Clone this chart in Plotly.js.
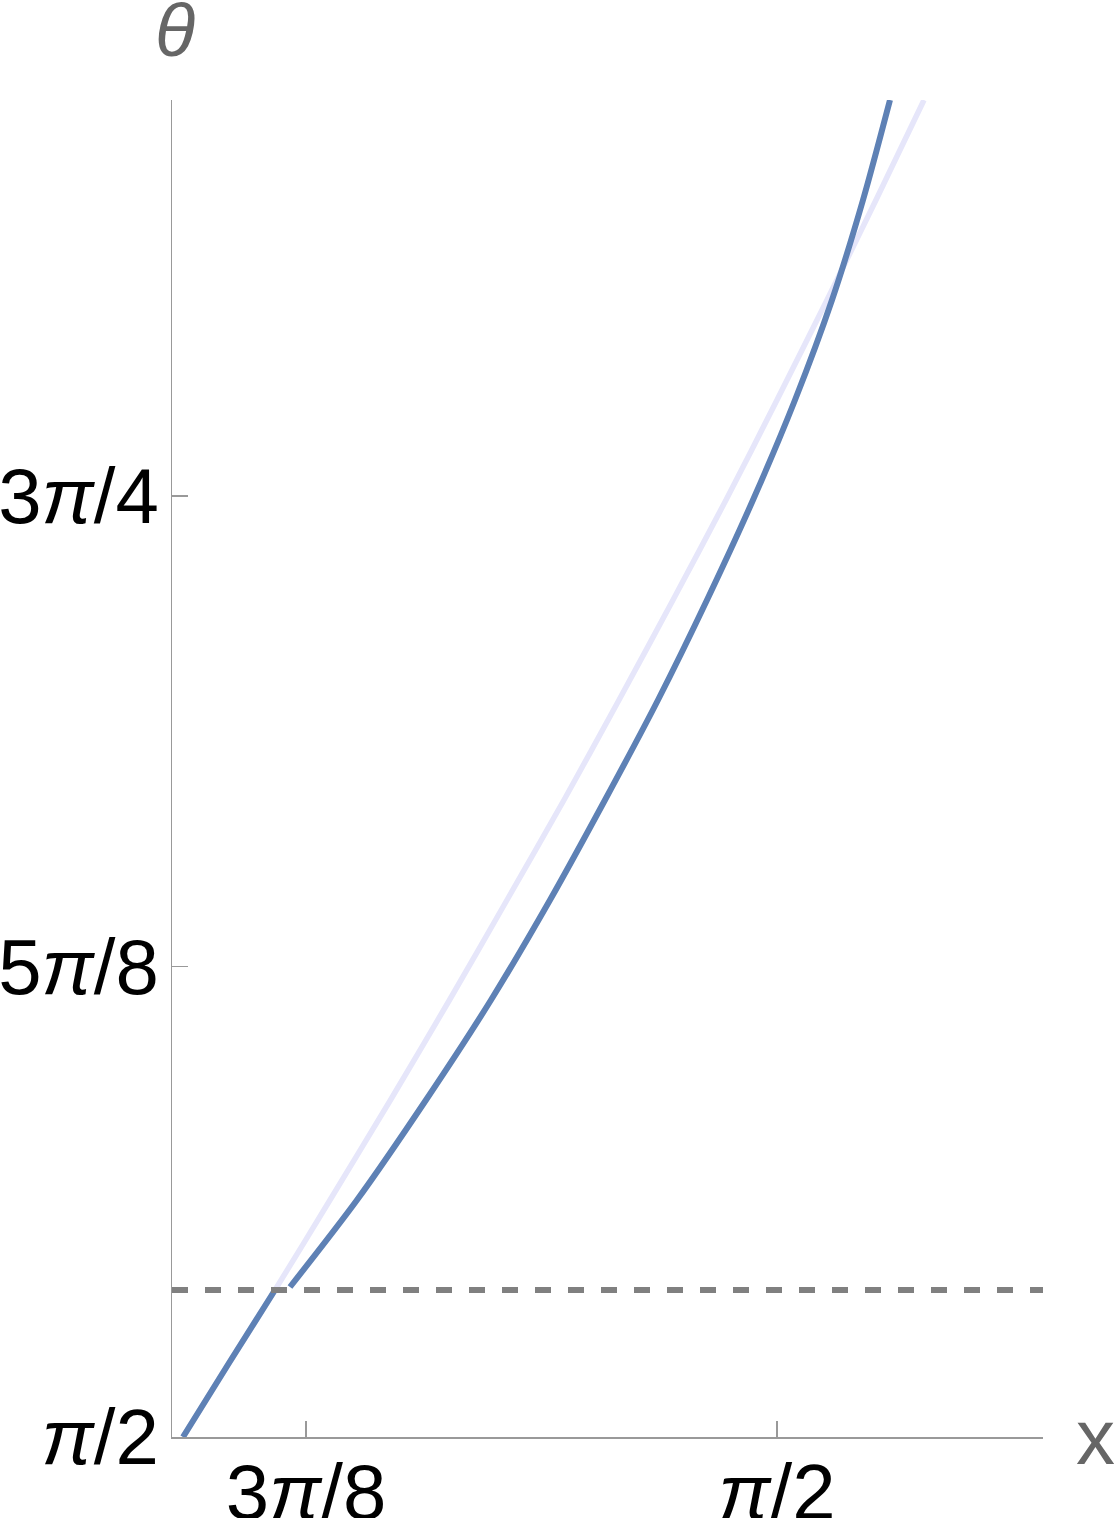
<!DOCTYPE html>
<html>
<head>
<meta charset="utf-8">
<script src="https://cdn.plot.ly/plotly-3.0.1.min.js"></script>
<style>html,body{margin:0;padding:0;background:#fff;}#chart{width:1114px;height:1518px;}</style>
</head>
<body>
<div id="chart"></div>
<script>
// Light reference curve (lavender)
const refX = [1.07554, 1.11390, 1.15225, 1.19811, 1.24855, 1.29774, 1.34568, 1.39320, 1.43906, 1.48408, 1.52827, 1.57079, 1.61248, 1.65333, 1.69335];
const refY = [1.57080, 1.63256, 1.69349, 1.76861, 1.85208, 1.93554, 2.01901, 2.10247, 2.18594, 2.26941, 2.35287, 2.43633, 2.51980, 2.60327, 2.68673];

// Main curve (blue): lower branch, gap, upper branch
const lowX = [1.07554, 1.11390, 1.15225];
const lowY = [1.57080, 1.63256, 1.69349];
const upX = [1.16476, 1.22062, 1.27815, 1.33234, 1.38154, 1.42738, 1.47157, 1.51243, 1.55078, 1.58580, 1.61665, 1.64250, 1.66500];
const upY = [1.69600, 1.76861, 1.85208, 1.93554, 2.01901, 2.10247, 2.18594, 2.26941, 2.35287, 2.43633, 2.51980, 2.60327, 2.68673];

// Dashed threshold level
const dashLevel = 1.69349;

// Axis ticks
const xTickVals = [3*Math.PI/8, Math.PI/2];
const xTickText = ['3<i>π</i>/8', '<i>π</i>/2'];
const yTickVals = [Math.PI/2, 5*Math.PI/8, 3*Math.PI/4];
const yTickText = ['<i>π</i>/2', '5<i>π</i>/8', '3<i>π</i>/4'];
const xRange = [1.066374, 1.792573];
const yRange = [Math.PI/2, 2.68673];

const mainX = lowX.concat([null], upX);
const mainY = lowY.concat([null], upY);

const traces = [
  {x: refX, y: refY, type: 'scatter', mode: 'lines', line: {color: '#e6e6fa', width: 5.5, shape: 'spline', smoothing: 0.8}, hoverinfo: 'skip'},
  {x: mainX, y: mainY, type: 'scatter', mode: 'lines', connectgaps: false, line: {color: '#5e81b5', width: 6, shape: 'spline', smoothing: 0.8}, hoverinfo: 'skip'}
];

const tickFont = {family: 'Liberation Sans, Arial, sans-serif', size: 78, color: '#000'};
const layout = {
  width: 1114, height: 1518,
  margin: {l: 172, r: 71, t: 100, b: 81},
  paper_bgcolor: '#fff', plot_bgcolor: '#fff',
  showlegend: false,
  xaxis: {range: xRange, showgrid: false, zeroline: false, showline: true, linecolor: '#999', linewidth: 1.5,
          ticks: 'inside', ticklen: 16, tickcolor: '#999', tickwidth: 1.3,
          tickvals: xTickVals, ticktext: xTickText, tickfont: tickFont, ticklabelstandoff: -13},
  yaxis: {range: yRange, showgrid: false, zeroline: false, showline: true, linecolor: '#999', linewidth: 1.5,
          ticks: 'inside', ticklen: 16, tickcolor: '#999', tickwidth: 1.3,
          tickvals: yTickVals, ticktext: yTickText, tickfont: tickFont, ticklabelstandoff: -4},
  shapes: [{type: 'line', xref: 'paper', x0: 0, x1: 1, yref: 'y', y0: dashLevel, y1: dashLevel,
            line: {color: '#808080', width: 6, dash: '16px,17px'}}],
  annotations: [
    {text: '<i>θ</i>', xref: 'paper', yref: 'paper', x: 0, y: 1, xanchor: 'center', yanchor: 'middle',
     xshift: 3, yshift: 70, showarrow: false, font: {family: 'Liberation Sans, Arial, sans-serif', size: 74, color: '#666'}},
    {text: 'x', xref: 'paper', yref: 'paper', x: 1, y: 0, xanchor: 'center', yanchor: 'middle',
     xshift: 52, yshift: 0, showarrow: false, font: {family: 'Liberation Sans, Arial, sans-serif', size: 78, color: '#666'}}
  ]
};

Plotly.newPlot('chart', traces, layout, {staticPlot: true, displayModeBar: false});
</script>
</body>
</html>
